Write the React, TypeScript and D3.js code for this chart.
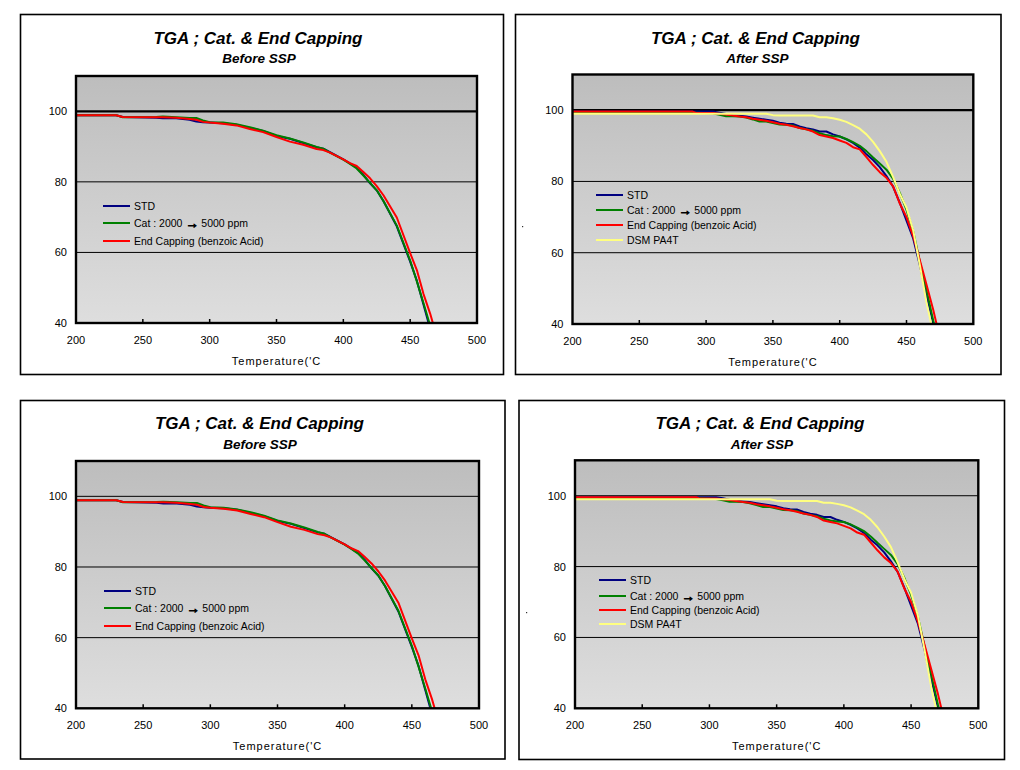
import React from 'react';
import * as d3 from 'd3';

// ---------- DATA ----------
const xTicks = [200, 250, 300, 350, 400, 450, 500];
const yTicks = [40, 60, 80, 100];
const xDomain = [200, 500];
const yDomain = [40, 110];

const seriesNames = ['STD', 'Cat : 2000 → 5000 ppm', 'End Capping (benzoic Acid)', 'DSM PA4T'];
const seriesColors = ['#000080', '#008000', '#ff0000', '#ffff80'];

const titleText = 'TGA ; Cat. & End Capping';
const xAxisTitle = "Temperature('C";

// Before SSP
const beforeTemps = [200, 230, 235, 260, 265, 275, 285, 290, 295, 300, 310, 320, 330, 340, 350, 360, 370, 380, 385, 390, 400, 405, 410, 415, 420, 425, 430, 440, 450, 455, 460, 465, 470];
const beforeStd = [98.9, 98.9, 98.4, 98.2, 98.0, 98.0, 97.6, 97.1, 96.9, 96.8, 96.6, 96.2, 95.3, 94.4, 93.0, 92.2, 91.0, 89.8, 89.4, 88.4, 86.4, 85.2, 84.0, 82.0, 79.6, 77.6, 74.6, 67.4, 57.4, 52.0, 45.2, 38.3, 32.0];
const beforeCat = [98.9, 98.9, 98.3, 98.4, 98.5, 98.3, 98.1, 98.1, 97.4, 96.9, 96.8, 96.3, 95.5, 94.5, 93.2, 92.3, 91.2, 89.9, 89.4, 88.3, 86.3, 85.1, 83.8, 81.8, 79.7, 77.6, 74.6, 67.6, 57.7, 51.8, 45.6, 39.2, 32.5];
const beforeEnd = [98.9, 98.9, 98.4, 98.3, 98.3, 98.2, 97.8, 97.6, 97.0, 96.8, 96.5, 96.0, 95.0, 94.1, 92.7, 91.4, 90.5, 89.3, 89.0, 88.3, 86.4, 85.3, 84.5, 82.8, 81.0, 78.8, 76.2, 69.9, 59.8, 55.0, 48.2, 42.6, 36.0];

// After SSP
const afterTemps = [200, 290, 292, 305, 310, 315, 320, 325, 330, 335, 340, 345, 350, 355, 360, 365, 370, 375, 380, 385, 390, 395, 400, 405, 410, 415, 420, 425, 430, 435, 440, 445, 450, 455, 460, 465, 470, 475];
const afterStd = [99.6, 99.6, 99.6, 99.6, 99.3, 98.9, 98.6, 98.4, 98.2, 97.9, 97.6, 97.3, 97.0, 96.5, 96.2, 96.1, 95.4, 94.9, 94.6, 94.0, 94.0, 93.2, 92.6, 91.8, 90.8, 89.5, 87.6, 86.0, 84.0, 81.5, 78.5, 74.0, 69.0, 64.0, 56.5, 48.0, 40.2, 33.0];
const afterCat = [99.3, 99.3, 99.3, 99.1, 98.7, 98.3, 98.3, 98.2, 97.9, 97.4, 96.8, 96.8, 96.4, 96.0, 95.9, 95.7, 95.0, 94.6, 94.2, 93.5, 93.0, 92.7, 92.6, 91.9, 91.0, 90.0, 88.5, 86.7, 85.0, 83.3, 80.7, 76.8, 72.0, 66.0, 57.5, 49.5, 41.0, 34.0];
const afterEnd = [99.6, 99.6, 99.3, 99.2, 99.0, 98.8, 98.5, 98.2, 98.0, 97.6, 97.3, 97.0, 96.6, 96.2, 95.9, 95.5, 95.0, 94.6, 94.0, 93.0, 92.6, 92.2, 91.5, 90.8, 89.6, 89.0, 86.8, 84.6, 82.6, 81.0, 78.6, 73.8, 70.0, 64.6, 57.9, 51.0, 44.0, 36.0];
const afterDsm = [99.0, 99.0, 99.0, 99.0, 99.0, 99.0, 99.0, 99.0, 99.0, 99.0, 99.0, 99.0, 98.6, 98.5, 98.5, 98.5, 98.5, 98.5, 98.5, 98.0, 98.0, 97.7, 97.3, 96.7, 95.8, 94.8, 93.2, 91.1, 88.5, 85.5, 81.2, 76.5, 72.6, 66.3, 56.5, 46.0, 37.5, 29.0];

const beforeSeries = [beforeStd, beforeCat, beforeEnd];
const afterSeries = [afterStd, afterCat, afterEnd, afterDsm];

const FONT = "'Liberation Sans', Arial, Helvetica, sans-serif";

type PanelProps = {
  id: string;
  box: [number, number, number, number];
  plot: [number, number, number, number];
  subtitle: string;
  titleX: number;
  subX: number;
  titleY: number;
  subY: number;
  temps: number[];
  series: number[][];
  legendX: number;
  legendYs: number[];
  thick100: boolean;
  dot?: [number, number];
};

function LegendLabel({ label, x, y }: { label: string; x: number; y: number }) {
  const parts = label.split('→');
  return (
    <text x={x} y={y} dominantBaseline="central" fontSize={10.5} fontFamily={FONT} fill="#000">
      {parts.length > 1 ? (
        <>
          <tspan>{parts[0]}</tspan>
          <tspan fontSize={13} fontWeight="bold" stroke="#000" strokeWidth={0.9}>→</tspan>
          <tspan>{parts[1]}</tspan>
        </>
      ) : (
        label
      )}
    </text>
  );
}

function Panel(p: PanelProps) {
  const [l, t, r, b] = p.plot;
  const x = d3.scaleLinear().domain(xDomain).range([l, r]);
  const y = d3.scaleLinear().domain(yDomain).range([b, t]);
  const line = d3
    .line<number>()
    .x((_, i) => x(p.temps[i]))
    .y((v) => y(v));
  const [bx0, by0, bx1, by1] = p.box;
  return (
    <g>
      <defs>
        <linearGradient id={`bg-${p.id}`} x1="0" y1="0" x2="0" y2="1">
          <stop offset="0" stopColor="#bdbdbd" />
          <stop offset="1" stopColor="#dedede" />
        </linearGradient>
        <clipPath id={`clip-${p.id}`}>
          <rect x={l} y={t} width={r - l} height={b - t} />
        </clipPath>
      </defs>
      <rect x={bx0} y={by0} width={bx1 - bx0} height={by1 - by0} fill="#fff" stroke="#000" strokeWidth={1.6} />
      <text x={p.titleX} y={p.titleY} textAnchor="middle" fontSize={17} fontWeight="bold" fontStyle="italic" fontFamily={FONT}>
        {titleText}
      </text>
      <text x={p.subX} y={p.subY} textAnchor="middle" fontSize={13.5} fontWeight="bold" fontStyle="italic" fontFamily={FONT}>
        {p.subtitle}
      </text>
      <rect x={l} y={t} width={r - l} height={b - t} fill={`url(#bg-${p.id})`} />
      {yTicks
        .filter((v) => v > yDomain[0])
        .map((v) => (
          <line key={v} x1={l} x2={r} y1={y(v)} y2={y(v)} stroke="#000" strokeWidth={v === 100 && p.thick100 ? 2.2 : 1} />
        ))}
      {xTicks.slice(1, -1).map((v) => (
        <line key={v} x1={x(v)} x2={x(v)} y1={b} y2={b - 4} stroke="#000" strokeWidth={1.5} />
      ))}
      <g clipPath={`url(#clip-${p.id})`}>
        {p.series.map((s, i) => (
          <path key={i} d={line(s) || ''} fill="none" stroke={seriesColors[i]} strokeWidth={2} strokeLinejoin="round" />
        ))}
      </g>
      <rect x={l} y={t} width={r - l} height={b - t} fill="none" stroke="#000" strokeWidth={2.4} />
      {yTicks.map((v) => (
        <text key={v} x={l - 9} y={y(v)} textAnchor="end" dominantBaseline="central" fontSize={11} fontFamily={FONT}>
          {v}
        </text>
      ))}
      {xTicks.map((v) => (
        <text key={v} x={x(v)} y={b + 21} textAnchor="middle" fontSize={11} fontFamily={FONT}>
          {v}
        </text>
      ))}
      <text x={(l + r) / 2} y={b + 42} textAnchor="middle" fontSize={11} letterSpacing={1} fontFamily={FONT}>
        {xAxisTitle}
      </text>
      {p.series.map((_, i) => (
        <g key={i}>
          <line x1={p.legendX} x2={p.legendX + 27} y1={p.legendYs[i]} y2={p.legendYs[i]} stroke={seriesColors[i]} strokeWidth={2} />
          <LegendLabel label={seriesNames[i]} x={p.legendX + 31} y={p.legendYs[i]} />
        </g>
      ))}
      {p.dot && <rect x={p.dot[0]} y={p.dot[1]} width={1.2} height={1.2} fill="#333" />}
    </g>
  );
}

export default function App() {
  return (
    <svg width={1020} height={770} style={{ position: 'absolute', left: 0, top: 0, background: '#fff' }}>
      <Panel
        id="tl"
        box={[20.5, 14.5, 503.5, 374.5]}
        plot={[76, 76, 477, 323]}
        subtitle="Before SSP"
        titleX={258}
        subX={259}
        titleY={43.5}
        subY={63}
        temps={beforeTemps}
        series={beforeSeries}
        legendX={103}
        legendYs={[206, 223, 241]}
        thick100={true}
      />
      <Panel
        id="tr"
        box={[515.5, 14.5, 1001, 374.5]}
        plot={[572.5, 74.5, 973.3, 324]}
        subtitle="After SSP"
        titleX={755.5}
        subX={757.5}
        titleY={43.5}
        subY={63}
        temps={afterTemps}
        series={afterSeries}
        legendX={596}
        legendYs={[195, 210, 225, 240]}
        thick100={true}
        dot={[522, 226]}
      />
      <Panel
        id="bl"
        box={[20.5, 400.5, 505, 759]}
        plot={[76, 461, 479, 708.3]}
        subtitle="Before SSP"
        titleX={259.5}
        subX={260}
        titleY={428.5}
        subY={448.5}
        temps={beforeTemps}
        series={beforeSeries}
        legendX={104}
        legendYs={[591, 608, 626]}
        thick100={false}
      />
      <Panel
        id="br"
        box={[519, 400.5, 1004.5, 759.5]}
        plot={[575, 460.3, 978.3, 708.3]}
        subtitle="After SSP"
        titleX={760}
        subX={762}
        titleY={428.5}
        subY={448.5}
        temps={afterTemps}
        series={afterSeries}
        legendX={599}
        legendYs={[580, 596, 610, 624]}
        thick100={false}
        dot={[526, 612]}
      />
    </svg>
  );
}
